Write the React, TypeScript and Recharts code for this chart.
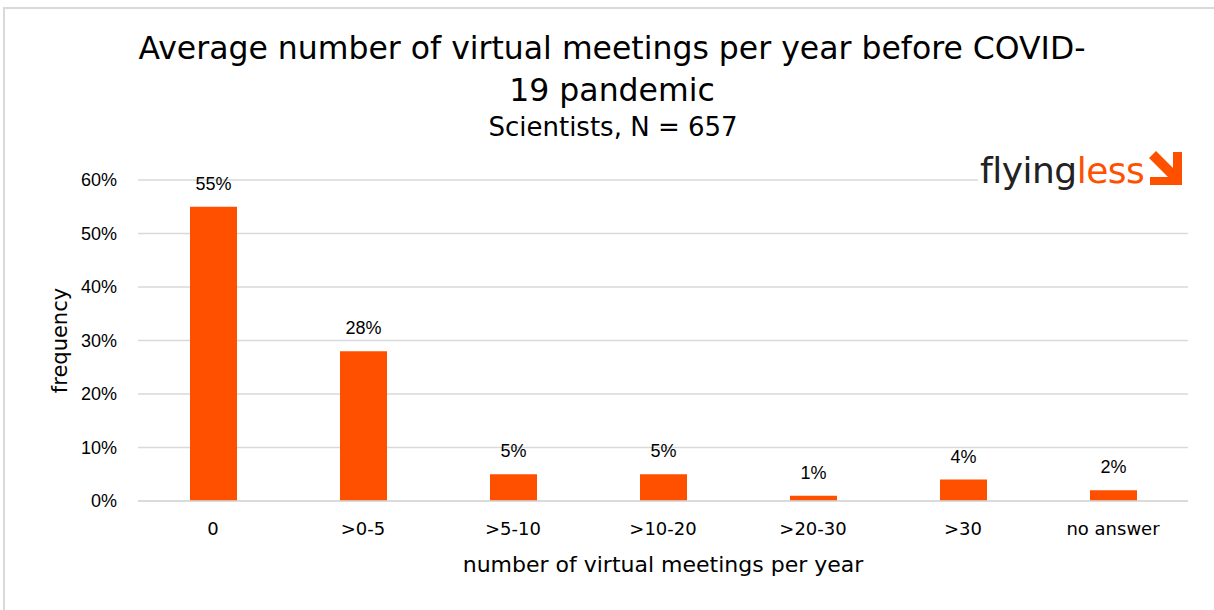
import React from 'react';
import { BarChart, Bar, XAxis, YAxis, CartesianGrid, LabelList } from 'recharts';

const categories = ['0', '>0-5', '>5-10', '>10-20', '>20-30', '>30', 'no answer'];
const frequency = [0.55, 0.28, 0.05, 0.05, 0.01, 0.04, 0.02];
const yTicks = [0, 0.1, 0.2, 0.3, 0.4, 0.5, 0.6];

const FONT = '"DejaVu Sans", sans-serif';
const NUM_FONT = '"Liberation Sans", Arial, sans-serif';
const ORANGE = '#FF5000';

const data = categories.map((name, i) => ({ name, value: frequency[i] }));

const pct = (v: number) => `${Math.round(v * 100)}%`;

const App: React.FC = () => {
  return (
    <div style={{ position: 'absolute', left: 0, top: 0, width: 1214, height: 610, background: '#fff', fontFamily: FONT }}>
      {/* frame */}
      <div style={{ position: 'absolute', left: 3, top: 7, width: 1211, height: 603, borderTop: '2px solid #d9d9d9', borderLeft: '2px solid #d9d9d9', boxSizing: 'border-box' }} />

      {/* title */}
      <div style={{ position: 'absolute', left: 0, width: 1224, top: 27, textAlign: 'center', fontSize: 31.5, lineHeight: '42px', color: '#000' }}>
        Average number of virtual meetings per year before COVID-
        <br />
        19 pandemic
      </div>
      <div style={{ position: 'absolute', left: 0, width: 1226, top: 112, textAlign: 'center', fontSize: 26, color: '#000' }}>
        Scientists, N = 657
      </div>

      <BarChart
        width={1214}
        height={610}
        data={data}
        margin={{ top: 180, right: 26, left: 78, bottom: 79 }}
        style={{ position: 'absolute', left: 0, top: 0 }}
      >
        <CartesianGrid vertical={false} stroke="#d9d9d9" strokeWidth={1.5} />
        <XAxis
          dataKey="name"
          height={30}
          tickLine={false}
          axisLine={{ stroke: '#d9d9d9', strokeWidth: 1.5 }}
          tickSize={0}
          tickMargin={21}
          tick={{ fill: '#000', fontSize: 18, fontFamily: FONT }}
          interval={0}
          label={{ value: 'number of virtual meetings per year', position: 'insideBottom', offset: -41, fill: '#000', fontSize: 22, fontFamily: FONT }}
        />
        <YAxis
          width={60}
          domain={[0, 0.6]}
          ticks={yTicks}
          tickFormatter={pct}
          tickLine={false}
          axisLine={false}
          tickSize={0}
          tickMargin={21}
          tick={{ fill: '#000', fontSize: 18, fontFamily: NUM_FONT }}
          label={{ value: 'frequency', angle: -90, position: 'insideLeft', offset: -18, fill: '#000', fontSize: 21, fontFamily: FONT, style: { textAnchor: 'middle' } }}
        />
        <Bar dataKey="value" fill={ORANGE} barSize={47} isAnimationActive={false}>
          <LabelList dataKey="value" position="top" offset={17} formatter={(v: any) => pct(Number(v))} fill="#000" fontSize={18} fontFamily={NUM_FONT} />
        </Bar>
      </BarChart>

      {/* logo */}
      <svg style={{ position: 'absolute', left: 0, top: 0, pointerEvents: 'none' }} width={1214} height={610}>
        <rect x={978} y={142} width={210} height={56} fill="#fff" />
        <text x={980} y={183} fontSize={36} fontFamily={FONT} letterSpacing={-0.5}>
          <tspan fill="#222">flying</tspan>
          <tspan fill={ORANGE}>less</tspan>
        </text>
        <path d="M1149 158 L1156 151 L1173 168 L1173 152 L1182 152 L1182 185 L1150 185 L1150 177 L1168 177 Z" fill={ORANGE} />
      </svg>
    </div>
  );
};

export default App;
